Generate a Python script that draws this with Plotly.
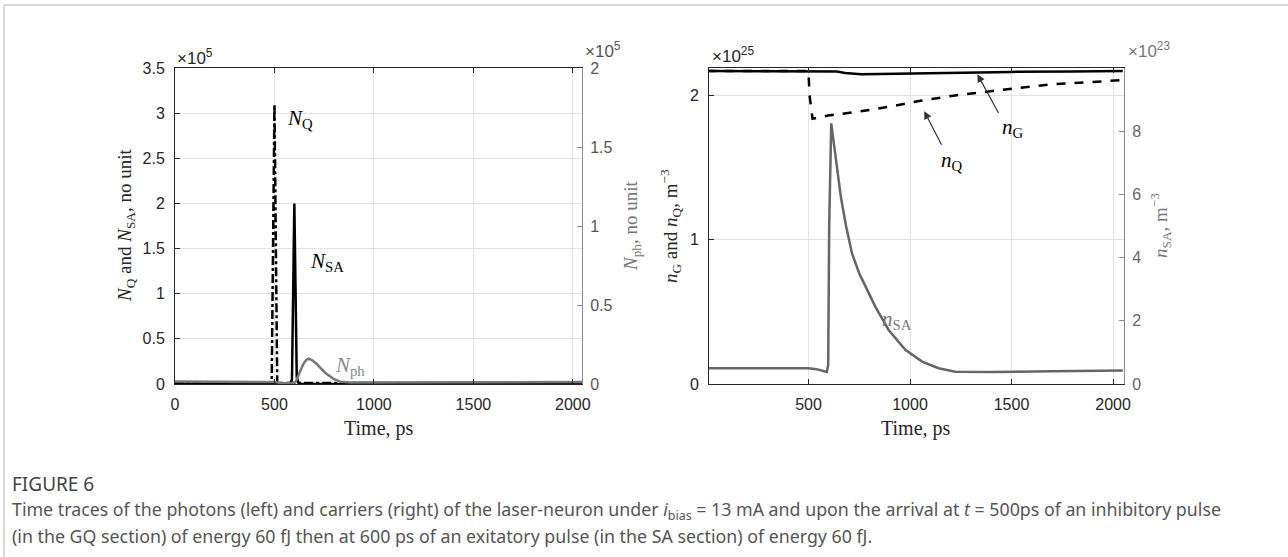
import plotly.graph_objects as go

# ---------------- data (left panel, photons) ----------------
# values in units of 1e5
t_NQ = [0, 480, 486, 500, 514, 520, 2048]
NQ = [0.01, 0.01, 0.0, 3.1, 0.0, 0.01, 0.01]

t_NSA = [0, 578, 588, 600, 612, 622, 2048]
NSA = [0.0, 0.0, 0.05, 2.0, 0.08, 0.0, 0.0]

t_Nph = [0, 480, 505, 530, 580, 605, 615, 630, 645, 660, 672, 690, 713, 740,
         763, 800, 830, 880, 1000, 1500, 2048]
Nph = [0.016, 0.016, 0.012, 0.006, 0.005, 0.01, 0.04, 0.085, 0.127, 0.152, 0.16,
       0.15, 0.127, 0.09, 0.063, 0.03, 0.015, 0.01, 0.01, 0.011, 0.012]

# ---------------- data (right panel, carriers) ----------------
# n_G, n_Q in units of 1e25 ; n_SA in units of 1e23
t_nG = [0, 500, 600, 640, 680, 720, 760, 850, 1000, 1200, 1500, 1800, 2048]
nG = [2.166, 2.166, 2.167, 2.163, 2.152, 2.145, 2.143, 2.146, 2.150, 2.155,
      2.160, 2.163, 2.166]

t_nQ = [0, 500, 505, 520, 597, 733, 898, 1058, 1222, 1391, 1539, 1687, 1852, 2048]
nQ = [2.166, 2.166, 2.0, 1.836, 1.858, 1.882, 1.919, 1.962, 1.997, 2.027, 2.05,
      2.073, 2.089, 2.103]

t_nSA = [0, 500, 540, 590, 597, 602, 612, 625, 640, 660, 685, 714, 750, 780, 829,
         895, 977, 1060, 1141, 1223, 1400, 1700, 2048]
nSA = [0.5, 0.5, 0.47, 0.38, 0.6, 5.0, 8.25, 7.6, 6.8, 5.9, 5.0, 4.14, 3.5, 3.08,
       2.45, 1.71, 1.08, 0.71, 0.5, 0.39, 0.38, 0.4, 0.43]

x_ticks_left = [0, 500, 1000, 1500, 2000]
x_ticks_right = [500, 1000, 1500, 2000]

W, H = 1288, 557
def px(x): return x / W
def py(y): return 1 - y / H

AX = "#262626"
GR = "#777777"
GRID = "#e3e3e3"
TICKF = dict(family="Liberation Sans, Arial", size=16, color=AX)
SERIF = "Liberation Serif, Times New Roman, serif"

fig = go.Figure()
fig.add_trace(go.Scatter(x=t_Nph, y=Nph, mode="lines", yaxis="y2", xaxis="x",
                         line=dict(color=GR, width=2.5)))
fig.add_trace(go.Scatter(x=t_NQ, y=NQ, mode="lines", xaxis="x", yaxis="y",
                         line=dict(color="black", width=2.5, dash="dashdot")))
fig.add_trace(go.Scatter(x=t_NSA, y=NSA, mode="lines", xaxis="x", yaxis="y",
                         line=dict(color="black", width=2.5)))

fig.add_trace(go.Scatter(x=t_nSA, y=nSA, mode="lines", xaxis="x2", yaxis="y4",
                         line=dict(color="#666666", width=2.5)))
fig.add_trace(go.Scatter(x=t_nG, y=nG, mode="lines", xaxis="x2", yaxis="y3",
                         line=dict(color="black", width=2.5)))
fig.add_trace(go.Scatter(x=t_nQ, y=nQ, mode="lines", xaxis="x2", yaxis="y3",
                         line=dict(color="black", width=2.5, dash="dash")))

common_x = dict(showline=True, linecolor=AX, linewidth=1, mirror="ticks",
                ticks="inside", ticklen=5, tickcolor=AX, showgrid=True,
                gridcolor=GRID, zeroline=False, tickfont=TICKF, automargin=False,
                ticklabelstandoff=6)
yd = [py(384), py(68)]
common_yl = dict(showline=True, linecolor=AX, ticks="inside", ticklen=5, tickcolor=AX,
                 showgrid=True, gridcolor=GRID, zeroline=False, tickfont=TICKF,
                 automargin=False, ticklabelstandoff=6)

fig.update_layout(
    width=W, height=H, margin=dict(l=0, r=0, t=0, b=0, pad=0, autoexpand=False),
    paper_bgcolor="white", plot_bgcolor="white", showlegend=False,
    xaxis=dict(domain=[px(175), px(582)], anchor="y", range=[0, 2046],
               tickvals=x_ticks_left, **common_x),
    yaxis=dict(domain=yd, anchor="x", range=[0, 3.5], dtick=0.5, **common_yl),
    yaxis2=dict(overlaying="y", side="right", anchor="x", range=[0, 2], dtick=0.5,
                showline=True, linecolor="#8a8a8a", ticks="inside", ticklen=5,
                tickcolor="#8a8a8a", showgrid=False, zeroline=False, automargin=False,
                ticklabelstandoff=4,
                tickfont=dict(family="Liberation Sans, Arial", size=16, color="#555555")),
    xaxis2=dict(domain=[px(709), px(1124)], anchor="y3", range=[10, 2054],
                tickvals=x_ticks_right, **common_x),
    yaxis3=dict(domain=yd, anchor="x2", range=[0, 2.187], tickvals=[0, 1, 2],
                **common_yl),
    yaxis4=dict(overlaying="y3", side="right", anchor="x2", range=[0, 10],
                tickvals=[0, 2, 4, 6, 8], showline=True, linecolor="#8a8a8a",
                ticks="inside", ticklen=5, tickcolor="#8a8a8a", showgrid=False,
                zeroline=False, automargin=False, ticklabelstandoff=4,
                tickfont=dict(family="Liberation Sans, Arial", size=16, color="#666666")),
)

anns = []
def paper_text(x, y, text, size=18, color=AX, angle=0, family=SERIF, xanchor="center"):
    anns.append(dict(xref="paper", yref="paper", x=px(x), y=py(y), text=text,
                     showarrow=False, textangle=angle, xanchor=xanchor, yanchor="middle",
                     font=dict(family=family, size=size, color=color)))

# axis titles
paper_text(379, 428, "Time, ps", 20)
paper_text(916, 428, "Time, ps", 20)
paper_text(126, 226, "<i>N</i><sub>Q</sub> and <i>N</i><sub>SA</sub>, no unit", 19, angle=-90)
paper_text(632, 226, "<i>N</i><sub>ph</sub>, no unit", 19, color="#777777", angle=-90)
paper_text(670, 226, "<i>n</i><sub>G</sub> and <i>n</i><sub>Q</sub>, m<sup>−3</sup>", 19, angle=-90)
paper_text(1160, 226, "<i>n</i><sub>SA</sub>, m<sup>−3</sup>", 19, color="#777777", angle=-90)

# exponent labels
SANS = "Liberation Sans, Arial"
paper_text(175, 57, "×10<sup>5</sup>", 17, family=SANS, xanchor="left")
paper_text(583, 50, "×10<sup>5</sup>", 17, color="#555555", family=SANS, xanchor="left")
paper_text(710, 55, "×10<sup>25</sup>", 17, family=SANS, xanchor="left")
paper_text(1126, 50, "×10<sup>23</sup>", 17, color="#777777", family=SANS, xanchor="left")

# curve labels
def data_text(xr, yr, x, y, text, color="black", size=21):
    anns.append(dict(xref=xr, yref=yr, x=x, y=y, text=text, showarrow=False,
                     font=dict(family=SERIF, size=size, color=color)))

data_text("x", "y", 629, 2.93, "<i>N</i><sub>Q</sub>")
data_text("x", "y", 765, 1.35, "<i>N</i><sub>SA</sub>")
data_text("x", "y", 880, 0.20, "<i>N</i><sub>ph</sub>", color="#888888")
data_text("x2", "y3", 1505, 1.775, "<i>n</i><sub>G</sub>")
data_text("x2", "y3", 1209, 1.542, "<i>n</i><sub>Q</sub>")
data_text("x2", "y4", 937, 2.03, "<i>n</i><sub>SA</sub>", color="#777777")

# arrows
for tip, tail in [((1332, 2.143), (1440, 1.865)), ((1070, 1.888), (1159, 1.646))]:
    anns.append(dict(xref="x2", yref="y3", x=tip[0], y=tip[1], axref="x2", ayref="y3",
                     ax=tail[0], ay=tail[1], text="", showarrow=True, arrowhead=2,
                     arrowsize=1.3, arrowwidth=1.2, arrowcolor="#333333"))

# caption
CAP = "Noto Sans, Open Sans, sans-serif"
anns.append(dict(xref="paper", yref="paper", x=px(10), y=py(484), text="FIGURE 6",
                 showarrow=False, xanchor="left", yanchor="middle",
                 font=dict(family=CAP, size=19, color="#444444")))
anns.append(dict(xref="paper", yref="paper", x=px(10), y=py(510),
                 text="Time traces of the photons (left) and carriers (right) of the laser-neuron under "
                      "<i>i</i><sub>bias</sub> = 13 mA and upon the arrival at <i>t</i> = 500ps of an inhibitory pulse",
                 showarrow=False, xanchor="left", yanchor="middle",
                 font=dict(family=CAP, size=17.8, color="#555555")))
anns.append(dict(xref="paper", yref="paper", x=px(10), y=py(536),
                 text="(in the GQ section) of energy 60 fJ then at 600 ps of an exitatory pulse "
                      "(in the SA section) of energy 60 fJ.",
                 showarrow=False, xanchor="left", yanchor="middle",
                 font=dict(family=CAP, size=17.8, color="#555555")))
fig.update_layout(annotations=anns)

# figure card border (top and left)
fig.add_shape(type="line", xref="paper", yref="paper", x0=px(4), x1=1, y0=py(5), y1=py(5),
              line=dict(color="#cccccc", width=1.5))
fig.add_shape(type="line", xref="paper", yref="paper", x0=px(4), x1=px(4), y0=py(5), y1=0,
              line=dict(color="#cccccc", width=1.5))

fig.write_html("out.html")
